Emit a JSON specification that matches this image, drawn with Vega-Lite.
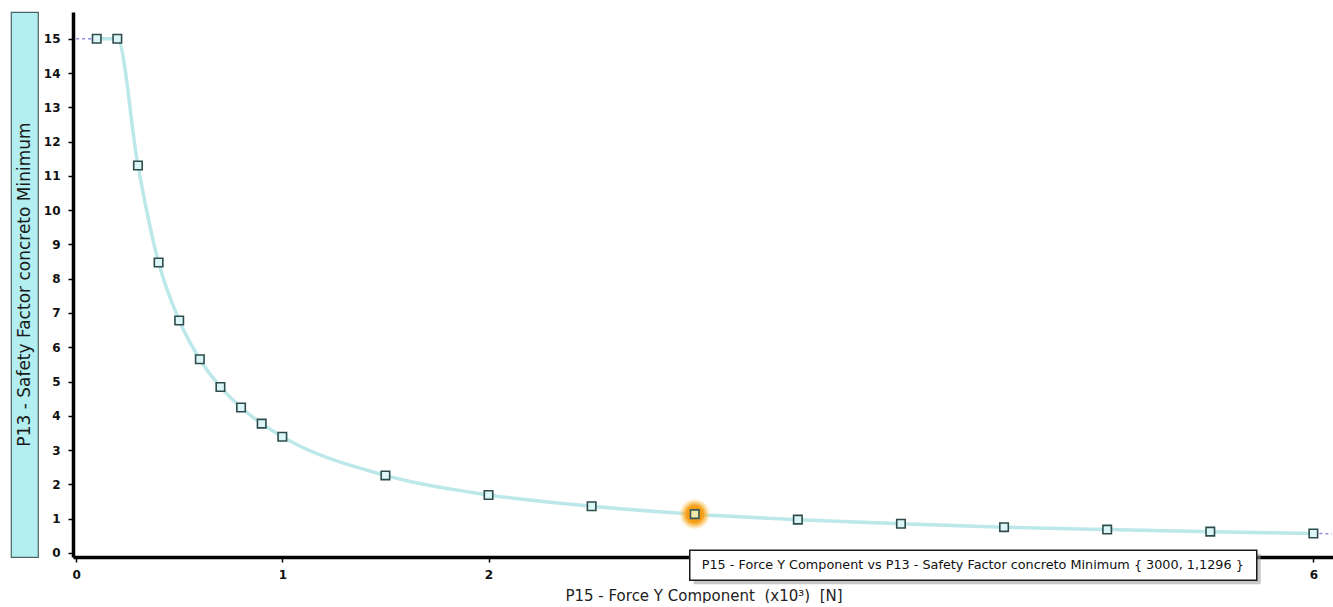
{
  "$schema": "https://vega.github.io/schema/vega-lite/v6.json",
  "padding": {"left": 10, "top": 11, "right": 0, "bottom": 0},
  "background": "white",
  "spacing": 4,
  "config": {"view": {"stroke": null}, "font": "DejaVu Sans"},
  "datasets": {
    "main": [
      {"force": 100, "sf": 15},
      {"force": 200, "sf": 15},
      {"force": 300, "sf": 11.3},
      {"force": 400, "sf": 8.47},
      {"force": 500, "sf": 6.78},
      {"force": 600, "sf": 5.65},
      {"force": 700, "sf": 4.84},
      {"force": 800, "sf": 4.24},
      {"force": 900, "sf": 3.77},
      {"force": 1000, "sf": 3.39},
      {"force": 1500, "sf": 2.26},
      {"force": 2000, "sf": 1.69},
      {"force": 2500, "sf": 1.36},
      {"force": 3000, "sf": 1.1296},
      {"force": 3500, "sf": 0.97},
      {"force": 4000, "sf": 0.85},
      {"force": 4500, "sf": 0.75},
      {"force": 5000, "sf": 0.68},
      {"force": 5500, "sf": 0.62},
      {"force": 6000, "sf": 0.565}
    ],
    "ext": [
      {"force": 0, "sf": 15, "side": "left"},
      {"force": 100, "sf": 15, "side": "left"},
      {"force": 6000, "sf": 0.565, "side": "right"},
      {"force": 6090, "sf": 0.56, "side": "right"}
    ],
    "tip": [
      {"force": 3000, "sf": 1.1296, "label": "P15 - Force Y Component vs P13 - Safety Factor concreto Minimum { 3000, 1,1296 }"}
    ],
    "ytitle": [
      {"t": "P13 - Safety Factor concreto Minimum"}
    ]
  },
  "hconcat": [
    {
      "width": 27,
      "height": 545,
      "view": {"fill": "#b3eef0", "stroke": "#4a6464", "strokeWidth": 1.2},
      "data": {"name": "ytitle"},
      "mark": {"type": "text", "angle": 270, "fontSize": 17, "color": "#1a1a1a", "baseline": "middle", "align": "center"},
      "encoding": {"text": {"field": "t"}}
    },
    {
      "width": 1261,
      "height": 545,
      "encoding": {
        "x": {
          "field": "force",
          "type": "quantitative",
          "scale": {"domain": [-15, 6100], "nice": false, "zero": false},
          "axis": {
            "title": "P15 - Force Y Component\u00a0\u00a0(x10³)\u00a0\u00a0[N]",
            "values": [0, 1000, 2000, 6000],
            "labelExpr": "datum.value / 1000",
            "grid": false,
            "domainColor": "#000",
            "domainWidth": 3.5,
            "tickColor": "#000",
            "tickSize": 5,
            "tickWidth": 1.5,
            "labelFontSize": 12,
            "labelFontWeight": "bold",
            "labelColor": "#111",
            "labelPadding": 7,
            "titleFontSize": 15,
            "titleFontWeight": "normal",
            "titleColor": "#222",
            "titlePadding": 8,
            "zindex": 0
          }
        },
        "y": {
          "field": "sf",
          "type": "quantitative",
          "scale": {"domain": [-0.12, 15.78], "nice": false, "zero": false},
          "axis": {
            "title": null,
            "values": [0, 1, 2, 3, 4, 5, 6, 7, 8, 9, 10, 11, 12, 13, 14, 15],
            "grid": false,
            "domainColor": "#000",
            "domainWidth": 3.5,
            "tickColor": "#000",
            "tickSize": 5,
            "tickWidth": 1.5,
            "labelFontSize": 12,
            "labelFontWeight": "bold",
            "labelColor": "#111",
            "labelPadding": 8,
            "zindex": 0
          }
        }
      },
      "layer": [
        {
          "data": {"name": "ext"},
          "mark": {"type": "line", "stroke": "#8c8ce0", "strokeWidth": 1.5, "strokeDash": [3, 3], "clip": true},
          "encoding": {"detail": {"field": "side"}}
        },
        {
          "data": {"name": "main"},
          "mark": {"type": "line", "interpolate": "monotone", "stroke": "#bde8ea", "strokeWidth": 3.5}
        },
        {
          "data": {"name": "main"},
          "mark": {"type": "point", "shape": "square", "size": 72, "filled": true, "fill": "#dcf6f8", "stroke": "#2e4c4c", "strokeWidth": 1.6, "opacity": 1}
        },
        {
          "data": {"name": "tip"},
          "mark": {
            "type": "point",
            "shape": "circle",
            "size": 1000,
            "filled": true,
            "strokeWidth": 0,
            "opacity": 1,
            "fill": {"gradient": "radial", "stops": [
              {"offset": 0, "color": "#f08a00"},
              {"offset": 0.55, "color": "#f6a21c"},
              {"offset": 0.8, "color": "rgba(250,190,80,0.5)"},
              {"offset": 1, "color": "rgba(255,220,140,0)"}
            ]}
          }
        },
        {
          "data": {"name": "tip"},
          "mark": {"type": "point", "shape": "square", "size": 72, "filled": true, "fill": "#f1e7a6", "stroke": "#3b5656", "strokeWidth": 1.6, "opacity": 1}
        },
        {
          "data": {"name": "tip"},
          "mark": {
            "type": "point",
            "shape": "M-0.0017,0.066H0.9433V0.1167H-0.0017Z",
            "size": 1440000,
            "filled": true,
            "fill": "#9a9a9a",
            "fillOpacity": 0.55,
            "strokeWidth": 0,
            "opacity": 1
          }
        },
        {
          "data": {"name": "tip"},
          "mark": {
            "type": "point",
            "shape": "M-0.0083,0.06H0.9367V0.11H-0.0083Z",
            "size": 1440000,
            "filled": true,
            "fill": "#ffffff",
            "stroke": "#1a1a1a",
            "strokeWidth": 1.5,
            "opacity": 1
          }
        },
        {
          "data": {"name": "tip"},
          "mark": {"type": "text", "align": "left", "baseline": "middle", "dx": 7, "dy": 51, "fontSize": 12.8, "color": "#111"},
          "encoding": {"text": {"field": "label"}}
        }
      ]
    }
  ]
}
